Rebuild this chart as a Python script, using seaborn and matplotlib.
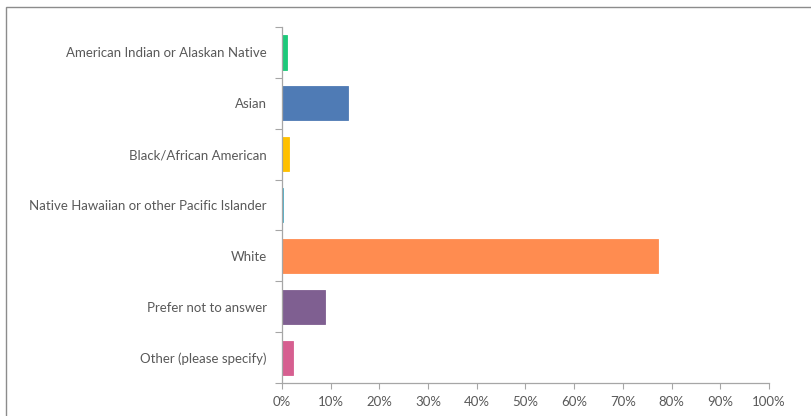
import matplotlib
matplotlib.use('Agg')
import matplotlib.pyplot as plt
import seaborn as sns
import pandas as pd
from matplotlib.patches import Rectangle
from matplotlib.ticker import PercentFormatter

# --- data ---
categories = [
    'American Indian or Alaskan Native',
    'Asian',
    'Black/African American',
    'Native Hawaiian or other Pacific Islander',
    'White',
    'Prefer not to answer',
    'Other (please specify)',
]
percentages = [1.0, 13.5, 1.4, 0.2, 77.3, 8.9, 2.3]
bar_colors = ['#1dc97a', '#4f7bb5', '#ffc000', '#4bacc6', '#ff8c50', '#7f5f91', '#d65f90']

df = pd.DataFrame({'category': categories, 'pct': percentages})

sns.set_style('white')
plt.rcParams['font.family'] = ['Lato', 'DejaVu Sans']

fig = plt.figure(figsize=(8.11, 4.16), dpi=100)
ax = fig.add_axes([0.3477, 0.0793, 0.6005, 0.8557])

sns.barplot(data=df, x='pct', y='category', hue='category', palette=bar_colors,
            legend=False, width=0.67, ax=ax, orient='h', saturation=1)
for p in ax.patches:
    p.set_edgecolor(p.get_facecolor())
    p.set_linewidth(0.6)

ax.set_xlim(0, 100)
ax.set_ylim(len(categories) - 0.5, -0.5)
ax.set_xticks(range(0, 101, 10))
ax.xaxis.set_major_formatter(PercentFormatter(decimals=0))
ax.set_xlabel('')
ax.set_ylabel('')

# Excel style: ticks between categories on the y-axis
ax.set_yticks(range(len(categories)))
ax.set_yticks([i - 0.5 for i in range(len(categories) + 1)], minor=True)
ax.tick_params(axis='y', which='major', left=True, length=0, pad=11, labelsize=9.5,
               labelcolor='#595959')
ax.tick_params(axis='y', which='minor', left=True, length=5, width=0.8,
               color='#a6a6a6', direction='out')
ax.tick_params(axis='x', bottom=True, length=4, width=0.8, color='#a6a6a6', labelsize=9.5,
               labelcolor='#595959', direction='out', pad=5)

for side in ['top', 'right']:
    ax.spines[side].set_visible(False)
for side in ['left', 'bottom']:
    ax.spines[side].set_color('#a6a6a6')
    ax.spines[side].set_linewidth(0.9)

# outer chart border
fig.patches.append(Rectangle((6 / 811, -0.05), 1.0, 1 + 0.05 - 7 / 416,
                             transform=fig.transFigure, fill=False,
                             edgecolor='#8c8c8c', linewidth=1.0))

fig.savefig('out.png', dpi=100)
